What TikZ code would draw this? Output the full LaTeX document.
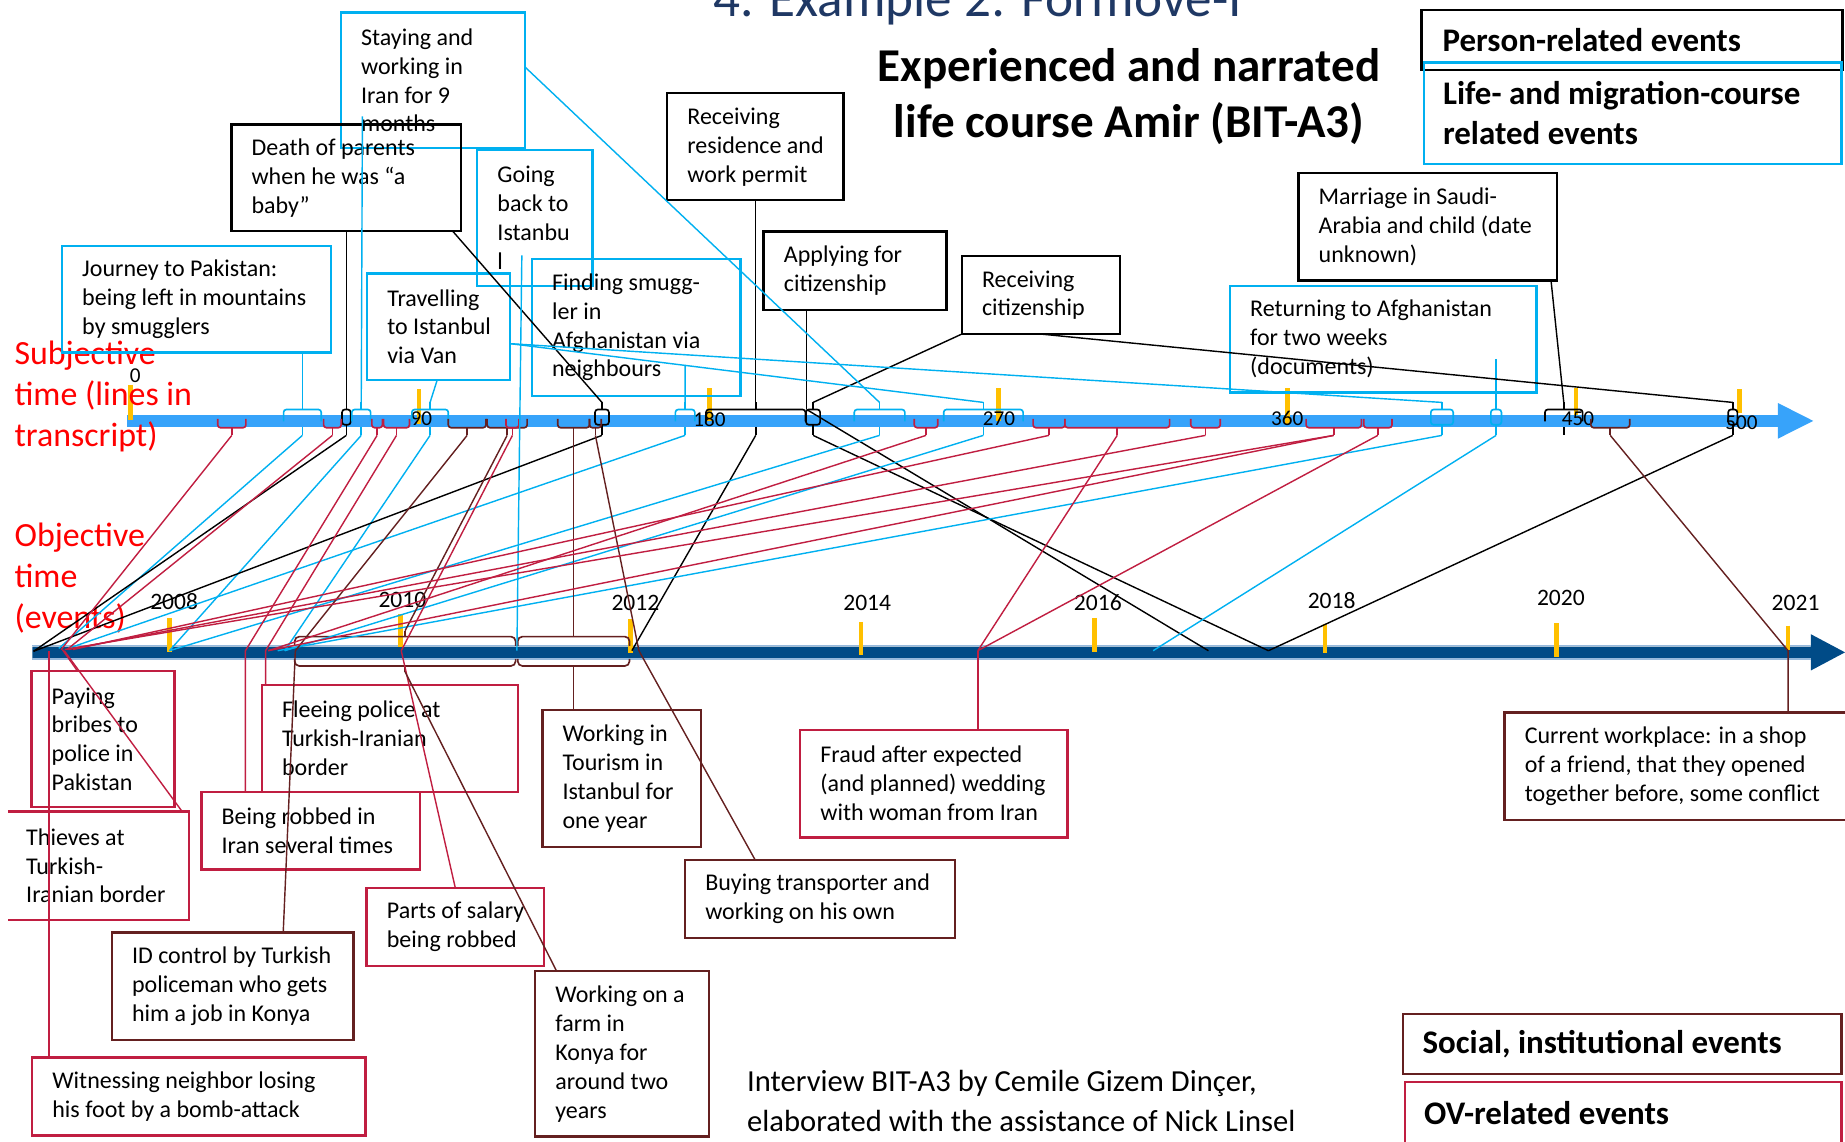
\documentclass[tikz,border=0pt]{standalone}
\usepackage{fontspec}
\setmainfont{Carlito}
\usetikzlibrary{calc}
\definecolor{cyanc}{RGB}{0,176,240}
\definecolor{redc}{RGB}{192,30,65}
\definecolor{brownc}{RGB}{100,32,32}
\definecolor{axisl}{RGB}{55,163,250}
\definecolor{axisd}{RGB}{0,75,135}
\definecolor{axise}{RGB}{150,185,220}
\definecolor{yel}{RGB}{255,192,0}
\definecolor{titleblue}{RGB}{31,56,100}

\newcommand{\evBox}[7]{%
  \node[#2, minimum width={(#5-#3)*0.5pt}, minimum height={(#6-#4)*0.5pt}, anchor=north west] (#1) at (#3,#4) {};
  \node[txt, anchor=west] (#1t) at ([xshift=8.4pt]#1.west) {#7};
}
\newcommand{\brTop}[4]{%
  \draw[#1, line width=0.7pt, rounded corners=1.2pt] (#2,358) -- (#2,348) -- (#3,348) -- (#3,358);
  \coordinate (#4u) at ({(#2+#3)/2},342);
  \coordinate (#4d) at ({(#2+#3)/2},370);
  \draw[#1, line width=0.7pt] ({(#2+#3)/2},348) -- (#4u);
  \draw[#1, line width=0.7pt] ({(#2+#3)/2},363) -- (#4d);
}
\newcommand{\brRect}[4]{%
  \draw[#1, line width=0.7pt, rounded corners=1.2pt] (#2,348) rectangle (#3,361);
  \coordinate (#4u) at ({(#2+#3)/2},342);
  \coordinate (#4d) at ({(#2+#3)/2},370);
  \draw[#1, line width=0.7pt] ({(#2+#3)/2},348) -- (#4u);
  \draw[#1, line width=0.7pt] ({(#2+#3)/2},361) -- (#4d);
}
\newcommand{\brBot}[4]{%
  \draw[#1, line width=0.7pt, rounded corners=1.2pt] (#2,356) -- (#2,363.5) -- (#3,363.5) -- (#3,356);
  \coordinate (#4d) at ({(#2+#3)/2},370);
  \draw[#1, line width=0.7pt] ({(#2+#3)/2},363.5) -- (#4d);
}
\newcommand{\obBr}[4]{%
  \draw[#1, line width=0.7pt, rounded corners=2pt] (#2,549) -- (#2,541) -- (#3,541) -- (#3,549);
  \draw[#1, line width=0.7pt, rounded corners=2pt] (#2,560) -- (#2,566) -- (#3,566) -- (#3,560);
  \coordinate (#4u) at ({(#2+#3)/2},536);
  \coordinate (#4d) at ({(#2+#3)/2},571);
  \draw[#1, line width=0.7pt] ({(#2+#3)/2},541) -- (#4u);
  \draw[#1, line width=0.7pt] ({(#2+#3)/2},566) -- (#4d);
}

\begin{document}
\begin{tikzpicture}[x=0.5pt,y=-0.5pt,
  bx/.style={draw, line width=1pt, inner sep=0pt, outer sep=0pt, rectangle},
  cb/.style={bx, draw=cyanc}, kb/.style={bx, draw=black},
  rb/.style={bx, draw=redc}, bb/.style={bx, draw=brownc},
  nb/.style={inner sep=0pt, outer sep=0pt, rectangle},
  txt/.style={font=\fontsize{10.2}{12.3}\selectfont, align=left, inner sep=0pt},
  cl/.style={cyanc, line width=0.6pt}, kl/.style={black, line width=0.6pt},
  rl/.style={redc, line width=0.6pt}, bl/.style={brownc, line width=0.6pt},
  ytick/.style={yel, line width=2pt},
  yr/.style={font=\fontsize{10}{12}\selectfont, inner sep=0pt},
  axn/.style={font=\fontsize{9}{10}\selectfont, inner sep=0pt},
  redlab/.style={text=red, font=\fontsize{14.4}{17.5}\selectfont, align=left, inner sep=0pt},
  leg/.style={font=\bfseries\fontsize{14}{16.8}\selectfont, align=left, inner sep=0pt}
]
\useasboundingbox (0,0) rectangle (1568,970);

% ---------- titles ----------
\node[font=\fontsize{22.6}{27}\selectfont, text=titleblue, anchor=base west, inner sep=0pt] (title) at (605.7,14) {4. Example 2: Formove-I};
\node[font=\bfseries\fontsize{20}{24}\selectfont, align=center, inner sep=0pt] (maintitle) at (959.5,82) {Experienced and narrated\\life course Amir (BIT-A3)};

% ---------- legend ----------
\node[kb, minimum width={(1566-1208)*0.5pt}, minimum height={(59.5-8.5)*0.5pt}, anchor=north west] (lg1) at (1208,8.5) {};
\node[leg, anchor=west] (lg1t) at ([xshift=8.8pt]lg1.west) {Person-related events};
\node[cb, minimum width={(1565-1210)*0.5pt}, minimum height={(139.4-53)*0.5pt}, anchor=north west] (lg2) at (1210,53) {};
\node[leg, anchor=west] (lg2t) at ([xshift=8pt]lg2.west) {Life- and migration-course\\related events};
\node[bb, minimum width={(1565-1192.4)*0.5pt}, minimum height={(913-861.8)*0.5pt}, anchor=north west] (lg3) at (1192.4,861.8) {};
\node[leg, anchor=west] (lg3t) at ([xshift=8.1pt]lg3.west) {Social, institutional events};
\node[rb, minimum width={(1565-1194)*0.5pt}, minimum height={(985-919.8)*0.5pt}, anchor=north west] (lg4) at (1194,919.8) {};
\node[leg, anchor=west] (lg4t) at (1210,946) {OV-related events};

\node[font=\fontsize{13}{17}\selectfont, align=left, anchor=west, inner sep=0pt] (foot) at (634.6,935.5) {Interview BIT-A3 by Cemile Gizem Dinçer,\\elaborated with the assistance of Nick Linsel};

% ---------- axes ----------
\fill[axisl] (108,352.7) -- (1511,352.7) -- (1511,342.5) -- (1541,357.7) -- (1511,372.8) -- (1511,362.8) -- (108,362.8) -- cycle;
\fill[axisd] (27.6,549.6) -- (1539,549.6) -- (1539,539) -- (1568,554.4) -- (1539,569.8) -- (1539,559.3) -- (27.6,559.3) -- cycle;
\draw[axise, line width=0.5pt] (27.6,548.9) -- (1539,548.9) (27.6,560) -- (1539,560);

\foreach \x/\a/\b in {111/327/357, 356.2/331/360, 603/330/358, 848.3/330/358, 1094.4/330/360, 1339.3/330/353, 1478.2/331/351}
  \draw[ytick] (\x,\a) -- (\x,\b);
\foreach \x/\a/\b in {143.8/525/554, 340.4/522/550, 536/526/555, 731.7/528.6/557, 930/525/554, 1126/530/555, 1323/529.5/558, 1519.6/531.7/552}
  \draw[ytick] (\x,\a) -- (\x,\b);

\node[axn] (n0) at (115,319) {0};
\node[axn] (n90) at (358,356) {90};
\node[axn] (n180) at (603,356) {180};
\node[axn] (n270) at (849,356) {270};
\node[axn] (n360) at (1094,356) {360};
\node[axn] (n450) at (1341,356) {450};
\node[axn] (n500) at (1480,359) {500};

\node[yr] (y08) at (148,511) {2008};
\node[yr] (y10) at (342,510) {2010};
\node[yr] (y12) at (540,512) {2012};
\node[yr] (y14) at (737,512) {2014};
\node[yr] (y16) at (933,512) {2016};
\node[yr] (y18) at (1131.7,510) {2018};
\node[yr] (y20) at (1326.5,508) {2020};
\node[yr] (y21) at (1526,512) {2021};

\node[redlab, anchor=west] (subj) at (12,337) {Subjective\\time (lines in\\transcript)};
\node[redlab, anchor=west] (obj) at (12,491.5) {Objective\\time\\(events)};

% ---------- event boxes ----------
\evBox{stay}{cb}{289.7}{10.5}{446.3}{126}{Staying and\\working in\\Iran for 9\\months}
\evBox{death}{kb}{196.6}{105.7}{392}{196.5}{Death of parents\\when he was “a\\baby”}
\evBox{goback}{cb}{405.6}{127.2}{503.4}{243}{Going\\back to\\Istanbu\\l}
\evBox{journey}{cb}{52.7}{209}{281.3}{299.7}{Journey to Pakistan:\\being left in mountains\\by smugglers}
\evBox{travel}{cb}{312}{232.3}{433.5}{323}{Travelling\\to Istanbul\\via Van}
\evBox{finding}{cb}{452}{220}{629.2}{336.3}{Finding smugg-\\ler in\\Afghanistan via\\neighbours}
\evBox{resid}{kb}{567}{79.3}{717}{170.2}{Receiving\\residence and\\work permit}
\evBox{apply}{kb}{649}{196.6}{804.3}{263.2}{Applying for\\citizenship}
\evBox{rcit}{kb}{817.4}{217.8}{951.8}{283.9}{Receiving\\citizenship}
\evBox{marr}{kb}{1103.5}{147}{1323}{238.5}{Marriage in Saudi-\\Arabia and child (date\\unknown)}
\evBox{ret}{cb}{1045.3}{242.8}{1305.8}{333.7}{Returning to Afghanistan\\for two weeks\\(documents)}

\evBox{pay}{rb}{26.7}{570.5}{148.4}{686}{Paying\\bribes to\\police in\\Pakistan}
\node[nb, minimum width={(160.6-6.7)*0.5pt}, minimum height={(782-689.6)*0.5pt}, anchor=north west] (thieves) at (6.7,689.6) {};
\draw[redc, line width=1pt] (thieves.north west) -- (thieves.north east) -- (thieves.south east) -- (thieves.south west);
\node[txt, anchor=west] (thievest) at ([xshift=7.6pt]thieves.west) {Thieves at\\Turkish-\\Iranian border};
\evBox{flee}{rb}{222.5}{581.9}{440.4}{673}{Fleeing police at\\Turkish-Iranian\\border}
\evBox{robbed}{rb}{171.2}{673}{357}{739}{Being robbed in\\Iran several times}
\evBox{salary}{rb}{311.6}{754.4}{462.2}{820.7}{Parts of salary\\being robbed}
\evBox{idc}{bb}{95}{792.6}{300.5}{883.8}{ID control by Turkish\\policeman who gets\\him a job in Konya}
\evBox{witness}{rb}{27.3}{898.8}{310.5}{965.1}{Witnessing neighbor losing\\his foot by a bomb-attack}
\evBox{tour}{bb}{460.9}{603.4}{595.6}{719.8}{Working in\\Tourism in\\Istanbul for\\one year}
\evBox{farm}{bb}{454.8}{825.2}{602.6}{966}{Working on a\\farm in\\Konya for\\around two\\years}
\evBox{buy}{bb}{582.2}{730.9}{811.6}{796.9}{Buying transporter and\\working on his own}
\evBox{fraud}{rb}{680}{620.4}{907.3}{711.6}{Fraud after expected\\(and planned) wedding\\with woman from Iran}
\evBox{curr}{bb}{1278.7}{605.4}{1580}{696.9}{Current workplace: in a shop\\of a friend, that they opened\\together before, some conflict}

% ---------- brackets on subjective axis ----------
\brTop{cyanc}{241}{273}{T1}
\brRect{black}{290.7}{298}{T2}
\brTop{cyanc}{299}{315}{T3}
\brTop{cyanc}{350}{381}{T4}
\brRect{black}{505.7}{517.5}{T5}
\brTop{cyanc}{574}{590.5}{T6}
\brTop{black}{600}{684.5}{T7}
\brRect{black}{685}{697}{T8}
\brTop{cyanc}{726}{769}{T9}
\brTop{cyanc}{802}{869.5}{T10}
\brRect{cyanc}{1216}{1235}{T11}
\brRect{cyanc}{1267}{1276}{T12}
\brTop{black}{1313}{1345}{T13}
\brRect{black}{1468.7}{1476.5}{T14}

\brBot{redc}{185}{209}{B1}
\brBot{redc}{275}{290}{B2}
\brBot{redc}{316}{325}{B3}
\brBot{redc}{326}{348}{B4}
\brBot{brownc}{381}{413}{B5}
\brBot{brownc}{414}{448}{B6}
\brBot{redc}{430}{441}{B7}
\brBot{brownc}{474}{501}{B8}
\brBot{brownc}{501}{511}{B9}
\brBot{redc}{777}{797}{B10}
\brBot{redc}{878}{905}{B11}
\brBot{redc}{905}{994}{B12}
\brBot{redc}{1012}{1037}{B13}
\brBot{redc}{1110}{1157}{B14}
\brBot{redc}{1159}{1183}{B15}
\brBot{brownc}{1352}{1385}{B16}

% ---------- braces on objective axis ----------
\obBr{brownc}{250.4}{438.2}{OA}
\obBr{brownc}{440}{535}{OB}

% ---------- coordinates ----------
\coordinate (S3) at (308,99);
\coordinate (G5) at (443.5,217);
\coordinate (F6) at (582.2,310);
\coordinate (R12) at (1271.5,305);

\coordinate (oK) at (28.5,553.5);
\coordinate (oC1) at (50,551);
\coordinate (oC6) at (58,551);
\coordinate (o08) at (144,553);
\coordinate (oC4) at (242,553);
\coordinate (oC11) at (236,553);
\coordinate (oRes) at (537,553);
\coordinate (oApp) at (1027,553);
\coordinate (oV) at (1078,553);
\coordinate (oRet) at (980,553);
\coordinate (oR1) at (52,552);
\coordinate (oR2) at (57,552);
\coordinate (oRob) at (208.6,553);
\coordinate (oFle) at (225.7,553);
\coordinate (oID) at (251,553);
\coordinate (oSal) at (341,553);
\coordinate (oBuy) at (543,553);
\coordinate (oR10) at (228,553);
\coordinate (oR11) at (62,552);
\coordinate (oR13) at (58,552);
\coordinate (oR14) at (55,552);
\coordinate (oFr) at (831,553);
\coordinate (oCur) at (1519.6,553);
\coordinate (oWit) at (41.6,553);
\coordinate (oThi) at (54.6,553);
\coordinate (oPay) at (53,552);
\coordinate (oGo) at (439.3,553);
\coordinate (T8a) at (685.5,348);

% ---------- connectors: boxes above to subjective axis ----------
\draw[cl] (journey.south -| T1u) -- (T1u);
\draw[kl] (death.south -| T2u) -- (T2u);
\draw[cl] (S3) -- (T3u);
\draw[cl] ($(travel.south west)!0.49!(travel.south east)$) -- (T4u);
\draw[kl] ($(death.south west)!0.963!(death.south east)$) -- (T5u);
\draw[cl] (F6) -- (T6u);
\draw[kl] (resid.south -| T7u) -- (T7u);
\draw[kl] (apply.south -| T8a) -- (T8a);
\draw[kl] (rcit.south west) -- (T8u);
\draw[cl] ([yshift=5.6pt]stay.east) -- (T9u);
\draw[cl] ([yshift=-7.2pt]travel.east) -- (T10u);
\draw[cl] ([yshift=-7.2pt]travel.east) -- (T11u);
\draw[cl] (R12) -- (T12u);
\draw[kl] ($(marr.south west)!0.978!(marr.south east)$) -- (T13u);
\draw[kl] (rcit.south) -- (T14u);
\draw[cl] (G5) -- (oGo);

% ---------- connectors: subjective axis to objective axis ----------
\draw[cl] (T1d) -- (oC1);
\draw[kl] (T2d) -- (oK);
\draw[cl] (T3d) -- (o08);
\draw[cl] (T4d) -- (oC4);
\draw[kl] (T5d) -- (oK);
\draw[cl] (T6d) -- (oC6);
\draw[kl] (T7d) -- (oRes);
\draw[kl] (T8a) -- (oApp);
\draw[kl] (T8d) -- (oV);
\draw[cl] (T9d) -- (o08);
\draw[cl] (T10d) -- (oC4);
\draw[cl] (T11d) -- (oC11);
\draw[cl] (T12d) -- (oRet);
\draw[kl] (T14d) -- (oV);

\draw[rl] (B1d) -- (oR1);
\draw[rl] (B2d) -- (oR2);
\draw[rl] (B3d) -- (oRob) -- (robbed.north -| oRob);
\draw[rl] (B4d) -- (oFle) -- (flee.north -| oFle);
\draw[bl] (B5d) -- (oID);
\draw[bl] (B6d) -- (OAu);
\draw[rl] (B7d) -- (oSal) -- (salary.north);
\draw[bl] (B8d) -- (OBu);
\draw[bl] (B9d) -- (oBuy) -- ($(buy.north west)!0.26!(buy.north east)$);
\draw[rl] (B10d) -- (oR10);
\draw[rl] (B11d) -- (oR11);
\draw[rl] (B12d) -- (oFr);
\draw[rl] (B13d) -- (oR13);
\draw[rl] (B14d) -- (oR14);
\draw[rl] (B14d) -- (oR10);
\draw[rl] (B15d) -- (oFr);
\draw[rl] (oFr) -- (fraud.north -| oFr);
\draw[bl] (B16d) -- (oCur) -- (curr.north -| oCur);

% ---------- connectors: objective axis to boxes below ----------
\draw[bl] (oID) -- ($(idc.north west)!0.709!(idc.north east)$);
\draw[bl] (OAd) -- ($(farm.north west)!0.123!(farm.north east)$);
\draw[bl] (OBd) -- (tour.north -| OBd);
\draw[rl] (oWit) -- (witness.north -| oWit);
\draw[rl] (oThi) -- ($(thieves.north west)!0.962!(thieves.north east)$);
\draw[rl] (oPay) -- ($(pay.north west)!0.323!(pay.north east)$);
\end{tikzpicture}
\end{document}
